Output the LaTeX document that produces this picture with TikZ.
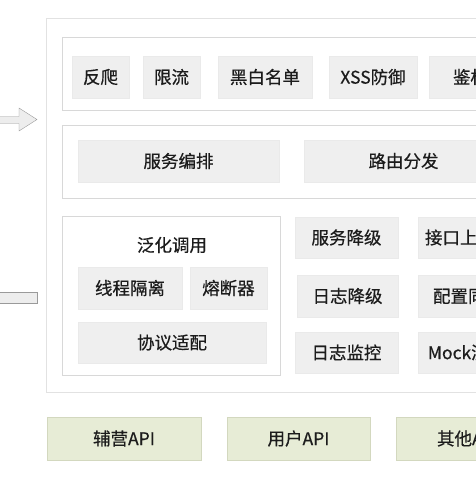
\documentclass[tikz,border=0pt]{standalone}
\usepackage{fontspec}
\setmainfont{Noto Sans CJK SC}[FakeBold=0.5]
\usepackage{tikz}
\usetikzlibrary{positioning}
\definecolor{cellgray}{HTML}{EFEFEF}
\definecolor{cellline}{HTML}{EAEAEA}
\definecolor{panelline}{HTML}{D8D8D8}
\definecolor{frameline}{HTML}{E2E2E2}
\definecolor{apifill}{HTML}{E7ECD6}
\definecolor{apiline}{HTML}{D3D8BF}
\definecolor{ink}{HTML}{1C1C1C}
\definecolor{arrowline}{HTML}{9A9A9A}
\definecolor{arrowfill}{HTML}{EDEDED}

\begin{document}
\begin{tikzpicture}[x=1pt,y=-1pt]
    \fontsize{17.5}{20}\selectfont
    \tikzset{
    panel/.style={draw=panelline, fill=white, line width=0.9pt, inner sep=0pt},
    cell/.style={fill=cellgray, draw=cellline, text=ink, minimum height=42pt, inner sep=0pt},
    api/.style={fill=apifill, draw=apiline, line width=0.9pt, text=ink, minimum height=43pt, inner sep=0pt},
    }

    \useasboundingbox (0,0) rectangle (476,477);
    \clip (0,0) rectangle (476,477);

    % Incoming arrows.
    \draw [arrowline, fill=arrowfill, line join=miter] (-2,116.5) -- (19,116.5) -- (19,108) -- (37,119.5)
          -- (19,131) -- (19,123.5) -- (-2,123.5) -- cycle;
    \draw [arrowline, fill=arrowfill] (-2,292) rectangle (37,303);

    % Frame and panels.
    \path (283,205)   node [panel, draw=frameline, minimum width=474pt, minimum height=374pt] (frame) {};
    \path (286,73.5)  node [panel, minimum width=448pt, minimum height=73pt] (gate)  {};
    \path (286,161.5) node [panel, minimum width=448pt, minimum height=73pt] (route) {};
    \path (171,295.5) node [panel, minimum width=218pt, minimum height=159pt] (call)  {};

    % Gateway row.
    \path (100.5,77) node [cell, minimum width=57pt] (crawl) {反爬};
    \path (171.5,77) node [cell, minimum width=57pt] (limit) {限流};
    \path (265,77)   node [cell, minimum width=94pt] (list)  {黑白名单};
    \path (373,77)   node [cell, minimum width=88pt] (xss)   {XSS防御};
    \path (470.5,77) node [cell, minimum width=83pt] (auth)  {鉴权};

    % Routing row.
    \path (178.5,161) node [cell, minimum width=201pt] (orch)     {服务编排};
    \path (403.5,161) node [cell, minimum width=199pt] (dispatch) {路由分发};

    % Generic call.
    \path (172,245)    node [text=ink] (calltitle) {泛化调用};
    \path (130,288)    node [cell, minimum width=104pt] (isolate) {线程隔离};
    \path (228.5,288)  node [cell, minimum width=77pt]  (breaker) {熔断器};
    \path (172,342.5)  node [cell, minimum width=188pt, minimum height=41pt] (proto) {协议适配};

    % Degrade and tools.
    \path (346.5,237.5) node [cell, minimum width=103pt, minimum height=41pt] (svcdown) {服务降级};
    \path (347.5,296)   node [cell, minimum width=101pt] (logdown) {日志降级};
    \path (346.5,352.5) node [cell, minimum width=103pt, minimum height=41pt] (logmon)  {日志监控};
    \path (460,237.5)   node [cell, minimum width=84pt,  minimum height=41pt] (report)  {接口上报};
    \path (468,296)     node [cell, minimum width=100pt] (sync)    {配置同步};
    \path (467,352.5)   node [cell, minimum width=98pt, minimum height=41pt] (mock)    {Mock测试};

    % API row.
    \path (124,438.5)   node [api, minimum width=154pt] (opsapi)   {辅营API};
    \path (298.5,438.5) node [api, minimum width=143pt] (userapi)  {用户API};
    \path (468,438.5)   node [api, minimum width=144pt] (otherapi) {其他API};
\end{tikzpicture}
\end{document}
